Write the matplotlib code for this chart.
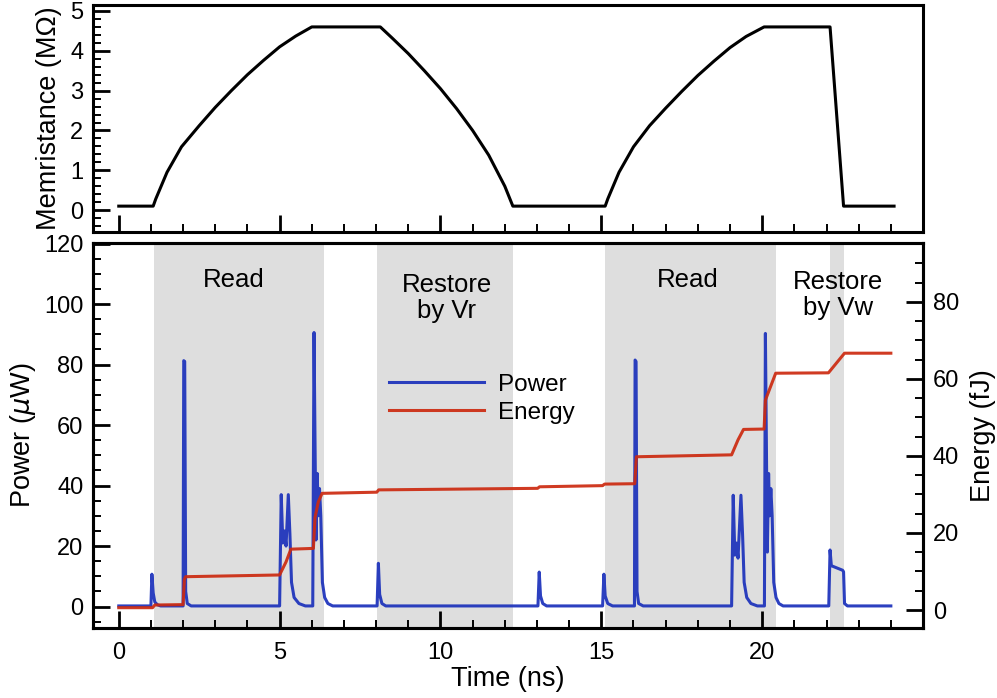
import numpy as np
import matplotlib
matplotlib.use("Agg")
import matplotlib.pyplot as plt
from matplotlib.ticker import MultipleLocator

plt.rcParams['font.family'] = ['Liberation Sans', 'DejaVu Sans']

# memristance (MOhm)
t_mem = [0, 1.07, 1.15, 1.5, 1.95, 2.5, 3, 3.5, 4, 4.5, 5, 5.5, 6.0,
         8.13, 8.5, 9, 9.5, 10, 10.5, 11, 11.5, 12, 12.25,
         15.12, 15.2, 15.55, 16.0, 16.5, 17, 17.5, 18, 18.5, 19, 19.5, 20.06,
         22.11, 22.53, 24.1]
mem = [0.1, 0.1, 0.28, 0.95, 1.59, 2.12, 2.58, 3.0, 3.4, 3.76, 4.1, 4.37, 4.6,
       4.6, 4.32, 3.93, 3.5, 3.05, 2.55, 2.0, 1.38, 0.6, 0.1,
       0.1, 0.28, 0.95, 1.59, 2.12, 2.56, 2.98, 3.38, 3.74, 4.08, 4.36, 4.6,
       4.6, 0.1, 0.1]

# power (uW)
t_pow = [0, 1.0, 1.03, 1.07, 1.12, 1.2, 1.3,
         2.0, 2.02, 2.05, 2.08, 2.13, 2.25,
         5.0, 5.05, 5.1, 5.15, 5.2, 5.27, 5.32, 5.37, 5.45, 5.6, 5.8,
         6.03, 6.07, 6.1, 6.13, 6.17, 6.2, 6.24, 6.28, 6.33, 6.4, 6.5, 6.65,
         8.03, 8.07, 8.11, 8.18, 8.3,
         13.03, 13.07, 13.11, 13.18, 13.3,
         15.04, 15.08, 15.12, 15.2, 15.35,
         16.03, 16.05, 16.08, 16.11, 16.16, 16.3,
         19.05, 19.1, 19.15, 19.2, 19.25, 19.34, 19.39, 19.44, 19.52, 19.65, 19.85,
         20.07, 20.1, 20.13, 20.16, 20.2, 20.23, 20.27, 20.31, 20.36, 20.43, 20.52, 20.65,
         22.07, 22.11, 22.15, 22.5, 22.53, 22.56, 22.65, 24.0]
pw = [0.2, 0.2, 10.7, 4.5, 1.5, 0.6, 0.2,
      0.2, 81.3, 81.0, 5.0, 1.0, 0.2,
      0.2, 37.0, 21.0, 25.0, 20.0, 37.0, 24.0, 8.0, 3.0, 1.0, 0.2,
      0.2, 90.6, 55.0, 22.0, 44.0, 30.0, 39.0, 30.0, 8.0, 3.0, 1.0, 0.2,
      0.2, 14.3, 4.0, 1.0, 0.2,
      0.2, 11.4, 3.5, 1.0, 0.2,
      0.2, 10.7, 3.5, 1.0, 0.2,
      0.2, 81.5, 81.0, 5.0, 1.0, 0.2,
      0.2, 36.8, 17.0, 21.0, 16.0, 36.8, 24.0, 8.0, 3.0, 1.0, 0.2,
      0.2, 90.3, 55.0, 18.0, 44.0, 30.0, 39.0, 30.0, 8.0, 3.0, 1.0, 0.2,
      0.2, 18.7, 13.5, 12.0, 11.5, 1.0, 0.2, 0.2]

# energy (fJ)
t_en = [0, 1.05, 1.12, 2.0, 2.04, 2.08, 5.0, 5.2, 5.35, 6.05, 6.1, 6.2, 6.32, 8.02, 8.08,
        13.02, 13.08, 15.04, 15.1, 16.04, 16.09, 19.05, 19.25, 19.42, 20.06, 20.1,
        20.42, 22.06, 22.56, 24.0]
en = [0.6, 0.6, 1.3, 1.4, 8.0, 8.65, 9.1, 12.5, 15.8, 16.0, 24.0, 28.0, 30.3, 30.6, 31.2,
      31.6, 32.0, 32.3, 32.7, 32.8, 39.8, 40.3, 44.2, 46.9, 47.0, 54.5,
      61.5, 61.6, 66.7, 66.7]

shades = [(1.09, 6.39), (8.04, 12.27), (15.1, 20.42), (22.11, 22.54)]
phase_text = [(3.57, 'Read'), (10.2, 'Restore\nby Vr'), (17.7, 'Read'), (22.36, 'Restore\nby Vw')]
phase_y = [108, 102, 108, 103]

fig = plt.figure(figsize=(9.97, 6.98), dpi=100)
ax_m = fig.add_axes([0.0933, 0.6676, 0.8325, 0.3252])
ax_p = fig.add_axes([0.0933, 0.1007, 0.8325, 0.5516])
ax_e = ax_p.twinx()

lw_frame = 2.2
for a in (ax_m, ax_p, ax_e):
    for s in a.spines.values():
        s.set_linewidth(lw_frame)

# top panel
ax_m.plot(t_mem, mem, color='black', lw=2.2)
ax_m.set_xlim(-0.8, 25)
ax_m.set_ylim(-0.55, 5.15)
ax_m.set_xticks([0, 5, 10, 15, 20])
ax_m.xaxis.set_minor_locator(MultipleLocator(1))
ax_m.yaxis.set_major_locator(MultipleLocator(1))
ax_m.yaxis.set_minor_locator(MultipleLocator(0.2))
ax_m.tick_params(axis='both', which='both', direction='in', top=False, right=False)
ax_m.tick_params(axis='x', labelbottom=False)
ax_m.set_ylabel('Memristance (M\u03a9)', fontsize=19.5, labelpad=6)

# bottom panel
for x0, x1 in shades:
    ax_p.axvspan(x0, x1, color='#dedede', lw=0, zorder=0)
for (x, s), y in zip(phase_text, phase_y):
    ax_p.text(x, y, s, ha='center', va='center', fontsize=18.5, linespacing=1.15)

lp, = ax_p.plot(t_pow, pw, color='#1a30bb', lw=2.2, alpha=0.92, label='Power')
le, = ax_e.plot(t_en, en, color='#cc2a10', lw=2.2, alpha=0.92, label='Energy')

ax_p.set_xlim(-0.8, 25)
ax_p.set_ylim(-7, 120.3)
ax_e.set_ylim(-4.6, 95.4)
ax_p.set_xticks([0, 5, 10, 15, 20])
ax_p.xaxis.set_minor_locator(MultipleLocator(1))
ax_p.yaxis.set_major_locator(MultipleLocator(20))
ax_p.yaxis.set_minor_locator(MultipleLocator(5))
ax_e.yaxis.set_major_locator(MultipleLocator(20))
ax_e.yaxis.set_minor_locator(MultipleLocator(5))
ax_p.tick_params(axis='both', which='both', direction='in', top=False, right=False)
ax_e.tick_params(axis='y', which='both', direction='in')

ax_p.set_xlabel('Time (ns)', fontsize=19.5, labelpad=2)
ax_p.set_ylabel('Power ($\\mu$W)', fontsize=19.5, labelpad=4)
ax_e.set_ylabel('Energy (fJ)', fontsize=19.5, labelpad=8)

for a in (ax_m, ax_p, ax_e):
    a.tick_params(which='major', length=12, width=2, labelsize=17, pad=7)
    a.tick_params(which='minor', length=6, width=1.4)
ax_p.tick_params(axis='x', which='major', pad=10)

ax_e.legend([lp, le], ['Power', 'Energy'], loc='upper left', bbox_to_anchor=(0.345, 0.685),
            frameon=False, fontsize=17.5, handlelength=3.9, handletextpad=0.6,
            labelspacing=0.25, borderaxespad=0)

plt.savefig('out.png', dpi=100)
